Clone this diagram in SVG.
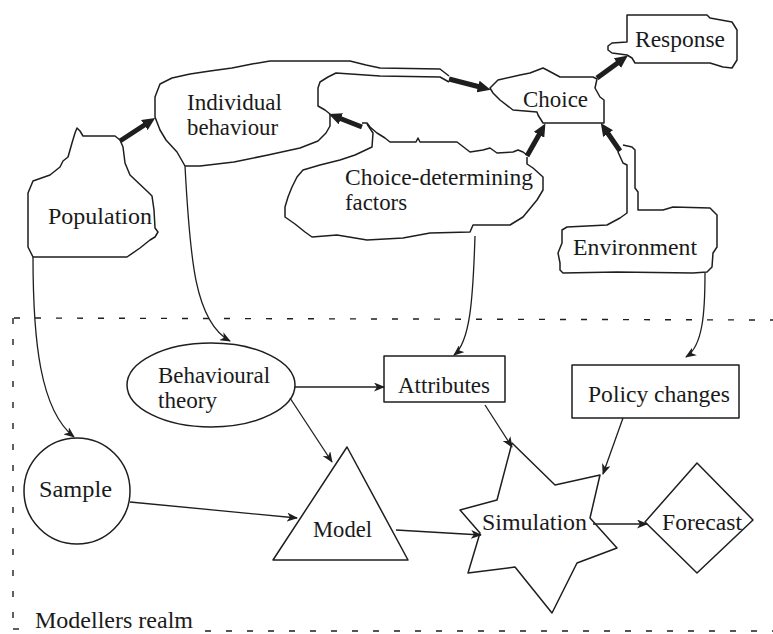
<svg xmlns="http://www.w3.org/2000/svg" width="773" height="634" viewBox="0 0 773 634">
<style>
.s{fill:none;stroke:#1e1e1e;stroke-width:1.5;stroke-linejoin:round}
.t{font-family:"Liberation Serif","Times New Roman",serif;font-size:24px;fill:#1a1a1a}
.c{fill:none;stroke:#1e1e1e;stroke-width:1.3}
.k{fill:none;stroke:#1e1e1e;stroke-width:5}
.d{fill:none;stroke:#1e1e1e;stroke-width:1.4;stroke-dasharray:6 15}
</style>
<defs>
<marker id="ah" markerUnits="userSpaceOnUse" markerWidth="11" markerHeight="9" refX="10" refY="4.5" orient="auto">
<path d="M0,0 L11,4.5 L0,9 L3,4.5 Z" fill="#1e1e1e"/>
</marker>
<marker id="th" markerUnits="userSpaceOnUse" markerWidth="13" markerHeight="12" refX="2" refY="6" orient="auto">
<path d="M0,0 L13,6 L0,12 Z" fill="#1e1e1e"/>
</marker>
</defs>
<rect width="773" height="634" fill="#fff"/>

<g id="realm">
<path class="d" d="M14,318 L773,320"/>
<path class="d" d="M13,318 L13,625"/>
<path class="d" d="M205,631 L773,631"/>
<path d="M13,629 L19,629" stroke="#1e1e1e" stroke-width="1.4"/>
<text class="t" x="35" y="628" textLength="158" lengthAdjust="spacingAndGlyphs">Modellers realm</text>
</g>

<g id="population">
<path class="s" d="M77,128 L80,131 L83,136 L115,136 L120,140 L123,147 L125,163 L130,175 L148,192 L152,196 L154,210 L155,228 L158,232 L155,237 L150,240 L140,248 L127,257 L33,257 L28,247 L28,193 L33,181 L50,175 L60,167 L63,161 L68,157 L72,143 L75,133 Z"/>
<text class="t" x="48" y="224" textLength="104" lengthAdjust="spacingAndGlyphs">Population</text>
</g>

<g id="individual">
<path class="s" d="M185,166 L177,152 L166,140 L160,130 L155,117 L155,97 L160,84 L172,78 L190,74 L210,71 L232,68 L252,64 L270,61 L350,61 L366,65 L380,68 L440,69 L449,76"/>
<path class="s" d="M449,82 L440,77 L380,76 L336,73 L328,77 L320,82 L318,88 L318,106 L325,110 L330,114 L330,126 L326,133 L318,141 L300,148 L268,155 L234,162 L200,166 L185,166"/>
<text class="t" x="187" y="110" textLength="95" lengthAdjust="spacingAndGlyphs">Individual</text>
<text class="t" x="187" y="135" textLength="91" lengthAdjust="spacingAndGlyphs">behaviour</text>
</g>

<g id="factors">
<path class="s" d="M362,123 L367,123 L370,127 L377,133 L385,138 L390,142 L416,142 L418,138 L420,142 L457,142 L470,152 L483,150 L490,148 L497,153 L513,152 L518,150 L523,152 L527,155"/>
<path class="s" d="M367,124 L373,133 L372,147 L355,155 L340,160 L320,165 L303,170 L297,177 L292,187 L288,197 L285,207 L285,217 L295,224 L305,232 L312,237 L337,235 L367,240 L403,238 L430,233 L470,232 L473,225 L510,225 L523,217 L537,200 L543,190 L543,177 L533,168 L527,164 L527,157"/>
<text class="t" x="345" y="185" textLength="188" lengthAdjust="spacingAndGlyphs">Choice-determining</text>
<text class="t" x="345" y="210" textLength="62" lengthAdjust="spacingAndGlyphs">factors</text>
</g>

<g id="choice">
<path class="s" d="M490,88 L498,80 L520,75 L530,73 L543,68 L547,70 L560,77 L593,77 L597,79 L595,88 L600,97 L604,100 L604,123 L543,123 L538,115 L537,112 L513,110 L500,100 L493,93 Z"/>
<text class="t" x="523" y="107" textLength="65" lengthAdjust="spacingAndGlyphs">Choice</text>
</g>

<g id="response">
<path class="s" d="M627,55 L612,53 L608,50 L608,46 L612,43 L627,42 L627,15 L707,15 L710,18 L732,22 L737,30 L737,60 L732,68 L723,67 L710,63 L635,63 L632,58 Z"/>
<text class="t" x="635" y="47" textLength="90" lengthAdjust="spacingAndGlyphs">Response</text>
</g>

<g id="environment">
<path class="s" d="M618,152 L623,163 L627,165 L627,213 L620,218 L607,225 L567,227 L562,230 L562,243 L558,253 L560,263 L560,270 L563,273 L617,272 L693,273 L707,272 L712,267 L713,253 L717,247 L717,215 L710,208 L673,207 L663,210 L638,210 L638,192 L635,188 L635,150 L632,147 L623,145"/>
<text class="t" x="573" y="255" textLength="124" lengthAdjust="spacingAndGlyphs">Environment</text>
</g>

<g id="behavioural-theory">
<ellipse class="s" cx="211" cy="385" rx="84" ry="42"/>
<text class="t" x="158" y="383" textLength="112" lengthAdjust="spacingAndGlyphs">Behavioural</text>
<text class="t" x="158" y="408" textLength="59" lengthAdjust="spacingAndGlyphs">theory</text>
</g>

<g id="sample">
<circle class="s" cx="77" cy="491" r="53"/>
<text class="t" x="39" y="497" textLength="73" lengthAdjust="spacingAndGlyphs">Sample</text>
</g>

<g id="model">
<path class="s" d="M347,447 L408,560 L273,560 Z"/>
<text class="t" x="313" y="537" textLength="59" lengthAdjust="spacingAndGlyphs">Model</text>
</g>

<g id="attributes">
<rect class="s" x="384" y="356" width="121" height="46"/>
<text class="t" x="398" y="393" textLength="92" lengthAdjust="spacingAndGlyphs">Attributes</text>
</g>

<g id="policy">
<rect class="s" x="572" y="365" width="167" height="53"/>
<text class="t" x="588" y="402" textLength="142" lengthAdjust="spacingAndGlyphs">Policy changes</text>
</g>

<g id="simulation">
<path class="s" d="M512,443 L555,485 L600,475 L590,518 L617,548 L577,563 L552,613 L515,567 L468,573 L480,533 L460,510 L497,500 Z"/>
<text class="t" x="482" y="530" textLength="105" lengthAdjust="spacingAndGlyphs">Simulation</text>
</g>

<g id="forecast">
<path class="s" d="M697,463 L753,520 L697,573 L645,522 Z"/>
<text class="t" x="662" y="530" textLength="80" lengthAdjust="spacingAndGlyphs">Forecast</text>
</g>

<g id="connectors">
<path class="k" d="M120,141 L146,124" marker-end="url(#th)"/>
<path class="k" d="M362,127 L339,118" marker-end="url(#th)"/>
<path class="k" d="M449,79 L480,87" marker-end="url(#th)"/>
<path class="k" d="M527,156 L540,133" marker-end="url(#th)"/>
<path class="k" d="M620,151 L607,132" marker-end="url(#th)"/>
<path class="k" d="M597,78 L619,62" marker-end="url(#th)"/>
<path class="c" d="M33,257 C33,340 40,410 74,437" marker-end="url(#ah)"/>
<path class="c" d="M185,166 C190,260 195,322 230,341" marker-end="url(#ah)"/>
<path class="c" d="M475,236 C473,300 470,342 454,355" marker-end="url(#ah)"/>
<path class="c" d="M705,273 C705,312 703,346 686,357" marker-end="url(#ah)"/>
<path class="c" d="M295,387 L384,387" marker-end="url(#ah)"/>
<path class="c" d="M290,398 L332,462" marker-end="url(#ah)"/>
<path class="c" d="M130,502 L297,518" marker-end="url(#ah)"/>
<path class="c" d="M396,530 L481,535" marker-end="url(#ah)"/>
<path class="c" d="M485,405 L512,447" marker-end="url(#ah)"/>
<path class="c" d="M623,418 L603,474" marker-end="url(#ah)"/>
<path class="c" d="M593,524 L647,524" marker-end="url(#ah)"/>
</g>
</svg>
